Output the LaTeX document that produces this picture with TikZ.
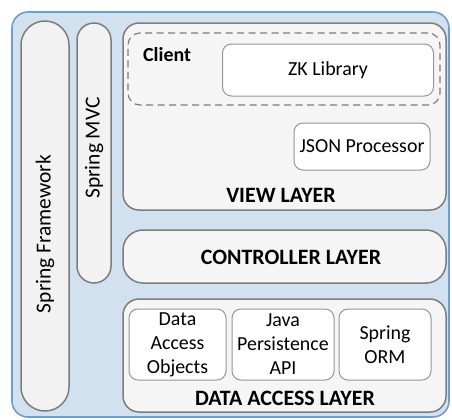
\documentclass[tikz,border=0pt]{standalone}
\usepackage{fontspec}
\setmainfont{Carlito}

\definecolor{framefill}{RGB}{210,225,240}
\definecolor{frameline}{RGB}{112,156,210}
\definecolor{pillfill}{RGB}{242,242,242}
\definecolor{layerfill}{RGB}{245,245,245}
\definecolor{edgegray}{RGB}{125,125,125}
\definecolor{partgray}{RGB}{150,150,150}

\begin{document}
\begin{tikzpicture}[x=1bp, y=-1bp,
    frame/.style={draw=frameline, fill=framefill, line width=1.6bp, rounded corners=16bp},
    pill/.style={draw=edgegray, fill=pillfill, line width=1.5bp, inner sep=0pt},
    layer/.style={draw=edgegray, fill=layerfill, line width=1.5bp, inner sep=0pt},
    part/.style={draw=partgray, fill=white, line width=1bp, rounded corners=9bp,
      inner sep=0pt, align=center, font=\fontsize{20}{24}\selectfont},
    client/.style={draw=edgegray, dash pattern=on 7bp off 4.5bp, line width=1.2bp,
      rounded corners=12bp, inner sep=0pt},
    layername/.style={font=\fontsize{22}{24}\selectfont\bfseries, inner sep=0pt},
    sidename/.style={font=\fontsize{21.5}{24}\selectfont, rotate=90, inner sep=0pt}]
        \useasboundingbox (0,0) rectangle (452,419);

        % Outer frame
        \node[frame, minimum width=437bp, minimum height=405bp] (outer) at (230.5,214.5) {};

        % Spring columns
        \node[pill, rounded corners=24bp, minimum width=48bp, minimum height=390bp] (framework) at (45,216) {};
        \node[pill, rounded corners=17bp, minimum width=34bp, minimum height=260bp] (mvc) at (94,153) {};
        \node[sidename] (frameworkname) at (45,234) {Spring Framework};
        \node[sidename] (mvcname) at (94,148) {Spring MVC};

        % View layer
        \node[layer, rounded corners=16bp, minimum width=323bp, minimum height=187bp] (view) at (284.5,116.5) {};
        \node[client, minimum width=312bp, minimum height=72bp] (client) at (284,69) {};
        \node[font=\fontsize{20}{22}\selectfont\bfseries, anchor=base west, inner sep=0pt] (clientname) at (143,61) {Client};
        \node[part, minimum width=211bp, minimum height=52bp] (zk) at (328,70) {ZK Library};
        \node[part, minimum width=136bp, minimum height=47bp] (json) at (362,146.5) {JSON Processor};
        \node[layername, anchor=base] (viewname) at (281,202) {VIEW LAYER};

        % Controller layer
        \node[layer, rounded corners=20bp, minimum width=323bp, minimum height=53bp] (controller) at (284.5,256.5) {};
        \node[layername, anchor=base] (controllername) at (291,264) {CONTROLLER LAYER};

        % Data access layer
        \node[layer, rounded corners=16bp, minimum width=323bp, minimum height=113bp] (dataaccess) at (284.5,355.5) {};
        \node[part, minimum width=97bp, minimum height=71bp] (dao) at (177.5,344.5) {Data\\Access\\Objects};
        \node[part, minimum width=102bp, minimum height=71bp] (jpa) at (283,344.5) {Java\\Persistence\\API};
        \node[part, minimum width=92bp, minimum height=71bp] (orm) at (385,344.5) {Spring\\ORM};
        \node[layername, anchor=base] (dataaccessname) at (285,405) {DATA ACCESS LAYER};
      \end{tikzpicture}
\end{document}
